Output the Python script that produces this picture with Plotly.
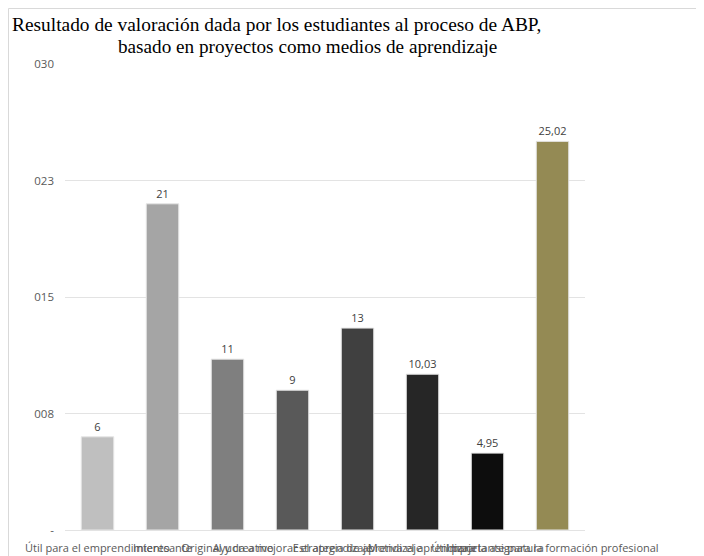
import plotly.graph_objects as go

categories = [
    "Útil para el emprendimiento",
    "Interesante",
    "Original y creativo",
    "Ayuda a mejorar el aprendizaje",
    "Estrategia de aprendizaje",
    "Motiva el aprendizaje",
    "Útil para la asignatura",
    "Importante para la formación profesional",
]
values = [6, 21, 11, 9, 13, 10.03, 4.95, 25.02]
value_labels = ["6", "21", "11", "9", "13", "10,03", "4,95", "25,02"]
colors = ["#BFBFBF", "#A5A5A5", "#7F7F7F", "#595959", "#404040", "#262626", "#0D0D0D", "#948A54"]
tick_vals = [0, 7.5, 15, 22.5, 30]
tick_text = ["-", "008", "015", "023", "030"]
title_line1 = "Resultado de valoración dada por los estudiantes al proceso de ABP,"
title_line2 = "basado en proyectos como medios de aprendizaje"

# page is rendered with an 8px body margin
OFF = 8
W, H = 696, 548
L, T = 65 - OFF, 64 - OFF
R = W - (585 - OFF)
B = H - (530 - OFF)
pw, ph = W - L - R, H - T - B

def px_x(x):  # page pixel -> paper
    return (x - OFF - L) / pw

def px_y(y):
    return (H - B - (y - OFF)) / ph

fig = go.Figure(go.Bar(
    x=categories, y=values, text=value_labels, textposition="outside",
    marker=dict(color=colors, line=dict(color="#E6E6E6", width=1)),
    textfont=dict(family="Open Sans, sans-serif", size=11, color="#404040"),
    cliponaxis=False,
))

fig.update_layout(
    width=W, height=H, margin=dict(l=L, r=R, t=T, b=B, autoexpand=False),
    paper_bgcolor="white", plot_bgcolor="white",
    bargap=0.5, showlegend=False,
    font=dict(family="Open Sans, sans-serif", size=11, color="#595959"),
)
fig.update_xaxes(tickangle=0, showgrid=False, showline=False, ticks="",
                 ticklabelstandoff=10, automargin=False,
                 tickfont=dict(size=11, color="#595959"))
fig.update_yaxes(range=[0, 30], tickvals=tick_vals, ticktext=tick_text,
                 showgrid=True, gridcolor="#E3E3E3", gridwidth=1,
                 zeroline=True, zerolinecolor="#E3E3E3", zerolinewidth=1,
                 showline=False, ticks="", ticklabelstandoff=10, automargin=False,
                 tickfont=dict(size=11.5, color="#595959"))

fig.add_annotation(text=title_line1, xref="paper", yref="paper",
                   x=px_x(10), y=px_y(24), xanchor="left", yanchor="middle",
                   showarrow=False,
                   font=dict(family="Liberation Serif, Times New Roman, serif", size=19.4, color="#000000"))
fig.add_annotation(text=title_line2, xref="paper", yref="paper",
                   x=px_x(307), y=px_y(46), xanchor="center", yanchor="middle",
                   showarrow=False,
                   font=dict(family="Liberation Serif, Times New Roman, serif", size=19.2, color="#000000"))

fig.add_shape(type="rect", xref="paper", yref="paper",
              x0=px_x(8.5), x1=px_x(720), y0=px_y(570), y1=px_y(8.5),
              line=dict(color="#D9D9D9", width=1), fillcolor="rgba(0,0,0,0)", layer="below")

fig.write_html("out.html")
